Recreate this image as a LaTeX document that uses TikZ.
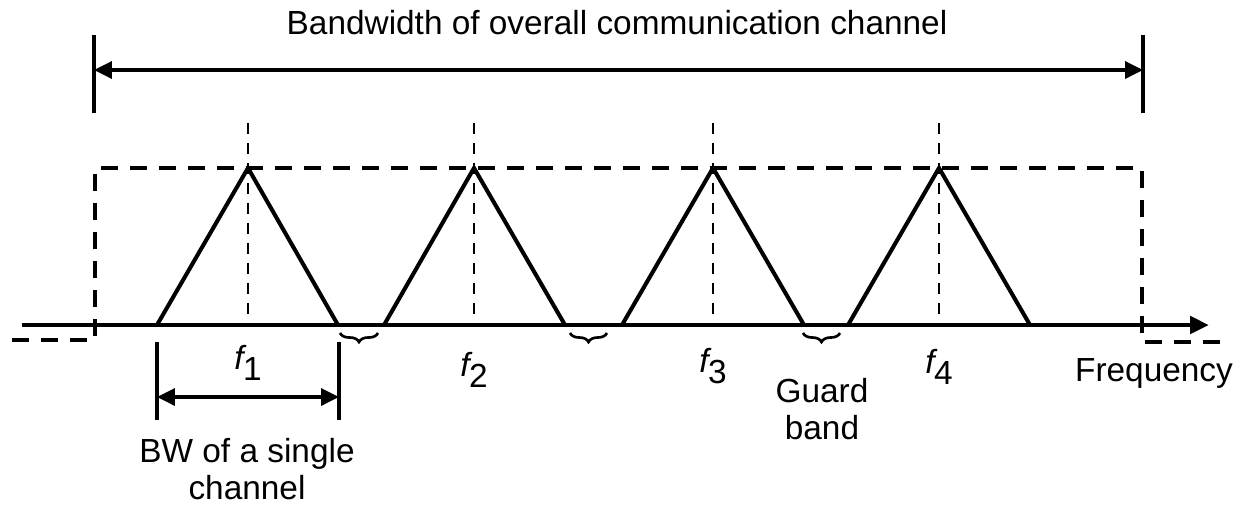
\documentclass[tikz,border=0pt]{standalone}
\usepackage{fontspec}
\setmainfont{Liberation Sans}
\usetikzlibrary{arrows.meta, decorations.pathreplacing}
\newcommand{\fsub}[1]{\textit{f}\kern-0.1em\raisebox{-0.6ex}{#1}}

\begin{document}
\begin{tikzpicture}[
  x=0.02cm, y=-0.02cm,
  every node/.style={font=\fontsize{19}{21.5}\selectfont, inner sep=0pt},
  axis/.style={line width=2.7pt, -{Triangle[length=0.38cm, width=0.34cm]}},
  band/.style={line width=2.3pt, line join=miter},
  envelope/.style={line width=2.6pt, dash pattern=on 0.34cm off 0.24cm},
  centre/.style={line width=1.6pt, dash pattern=on 0.22cm off 0.18cm},
  dim/.style={line width=2pt, {Triangle[length=0.36cm, width=0.34cm]}-{Triangle[length=0.36cm, width=0.34cm]}},
  tickline/.style={line width=1.8pt},
  guard/.style={line width=1.5pt, decorate, decoration={brace, mirror, amplitude=0.18cm}}
]
\useasboundingbox (0,0) rectangle (1241,505);

% overall channel span
\node (title) at (617,23) {Bandwidth of overall communication channel};
\coordinate (spanltop) at (94,35);
\coordinate (spanlbot) at (94,113);
\coordinate (spanrtop) at (1143,35);
\coordinate (spanrbot) at (1143,113);
\coordinate (spanl) at (94,70);
\coordinate (spanr) at (1143,70);
\draw[tickline] (spanltop) -- (spanlbot);
\draw[tickline] (spanrtop) -- (spanrbot);
\draw[dim] (spanl) -- (spanr);

% dashed envelope of the whole channel
\coordinate (envstart) at (12,340);
\coordinate (envbl) at (95,340);
\coordinate (envtl) at (95,168);
\coordinate (envtr) at (1142,168);
\coordinate (envbr) at (1142,342);
\coordinate (envend) at (1225,342);
\draw[envelope] (envstart) -- (envbl) -- (envtl) -- (envtr) -- (envbr) -- (envend);

% frequency axis
\coordinate (origin) at (22,325);
\coordinate (axisend) at (1209,325);
\draw[axis] (origin) -- (axisend);
\node (freq) at (1154,373) {Frequency};

% the four channels
\foreach \n/\l/\p/\r/\ly in {1/157/248/338/363, 2/384/474/565/370, 3/622/713/804/366, 4/848/939/1030/367} {
  \coordinate (l\n) at (\l,325);
  \coordinate (p\n) at (\p,168);
  \coordinate (r\n) at (\r,325);
  \coordinate (c\n) at (\p,123);
  \coordinate (b\n) at (\p,325);
  \draw[band] (l\n) -- (p\n) -- (r\n);
  \draw[centre] (c\n) -- (b\n);
  \node (f\n) at (\p,\ly) {\fsub{\n}};
}

% guard bands
\foreach \n/\a/\b in {1/340/378, 2/570/607, 3/803/840} {
  \coordinate (ga\n) at (\a,333);
  \coordinate (gb\n) at (\b,333);
  \draw[guard] (ga\n) -- (gb\n);
}
\node[align=center] (guardlbl) at (822,409) {Guard\\band};

% single channel bandwidth
\coordinate (bwltop) at (157,342);
\coordinate (bwlbot) at (157,420);
\coordinate (bwrtop) at (339,342);
\coordinate (bwrbot) at (339,420);
\coordinate (bwl) at (157,397);
\coordinate (bwr) at (339,397);
\draw[tickline] (bwltop) -- (bwlbot);
\draw[tickline] (bwrtop) -- (bwrbot);
\draw[dim] (bwl) -- (bwr);
\node[align=center] (bwlbl) at (247,469) {BW of a single\\channel};
\end{tikzpicture}
\end{document}
